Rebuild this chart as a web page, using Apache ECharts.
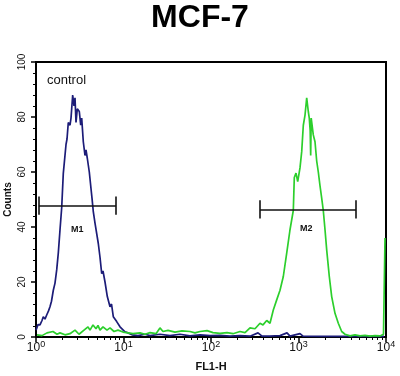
<!DOCTYPE html>
<html>
<head>
<meta charset="utf-8">
<script src="https://cdn.jsdelivr.net/npm/echarts@6/dist/echarts.min.js"></script>
<style>
html,body{margin:0;padding:0;background:#fff;}
#chart{width:400px;height:376px;}
</style>
</head>
<body>
<div id="chart"></div>
<script>
// ---- data (FL1-H value, counts) ----
var controlFL = [1.00,1.054,1.111,1.171,1.212,1.267,1.325,1.390,1.445,1.503,1.577,1.649,1.724,1.798,1.881,1.966,2.051,2.145,2.203,2.262,2.339,2.447,2.512,2.627,2.719,2.791,2.866,2.965,3.126,3.243,3.329,3.472,3.631,3.728,3.858,4.066,4.219,4.365,4.517,4.724,4.914,5.152,5.388,5.635,5.831,6.147,6.531,7.011,7.294,7.646,8.36,9.12,9.61,10.4,11.26,12.51,14.65,17.61,20.1,26.1,34.0,44.2,57.5,74.9,97.4,126.7,164.9,214.5,279.1,344.5,382.8,472.5,614.8,739,799.6,1040,1126,1761,2981,5047,9487];
var controlCounts = [2.5,4.5,4.4,6,7.4,6.5,8,9.5,11,13,17,19.6,24.4,30.5,39,47,59.5,59,70,72,78,77,79.6,88,84,87,78,83,82,77,79.6,71,66,68,65,60,55,50.5,45.6,41.4,42,34,29,23,24,20,14.7,11,12,7.4,5.6,3.7,4,1.9,1.5,0.8,0.5,1,0.5,1,0.5,1,0.4,0.8,0.5,0.6,0.3,0.5,0.3,1.5,0.3,0.3,0.5,1.5,0.3,1.2,0.3,0.2,0.2,0.2,0.2];

var sampleFL = [1.027,1.171,1.336,1.564,1.738,1.881,2.145,2.447,2.791,3.101,3.537,3.929,4.141,4.481,4.850,5.111,5.388,5.831,6.478,7.011,7.788,8.651,9.87,11.26,12.84,15.44,17.61,20.1,23.52,26.1,28.28,32.26,38.78,46.63,57.5,65.64,74.9,90.0,105.4,126.7,152.4,178.4,214.5,244.7,279.1,318.4,363.1,392.9,433.2,472.5,515.2,563.5,614.8,670.4,733.2,799.6,872.2,895.4,936.3,979.3,1040,1088,1135,1187,1241,1294,1328,1360,1378,1397,1476,1544,1614,1684,1761,1841,1920,2009,2101,2249,2395,2613,2850,3117,3400,3879,4424,5047,5754,6563,7486,8540,9363,9741];
var sampleCounts = [0.8,0.5,1.5,2,1,1.5,0.8,1.2,2.5,1,2.5,3.7,2.5,4.4,3,4.2,2.5,3.7,2.5,3.3,2,2.5,1.8,1.5,1.2,1.5,1,1.6,1.2,3.3,2,2.4,1.8,2.2,2,1.5,2,2.3,1.6,1.3,1.6,1.2,2,1.6,3.3,3,5,4.4,6,5,9.8,13.5,17,22,30.5,39,46,58,59.6,56.5,61.5,67.4,77,80.7,87,82,79.6,75,66,79.6,73.5,71,64,60,55,50.5,46,39,31.6,22,14.7,8.6,5,2,1,0.4,0.8,0.4,0.6,0.3,0.5,0.4,1,36];

// gates
var gateM1 = [1.08, 8.2], gateM1Level = 47.8;
var gateM2 = [363, 4540], gateM2Level = 46.4;
var capHalf = 3.3;

var xTickLabels = ['0','1','2','3','4'];
var yTicks = [0,20,40,60,80,100];

function zip(a,b){var r=[];for(var i=0;i<a.length;i++){r.push([a[i],b[i]]);}return r;}
function gateLines(g, lvl){
  return [
    [{coord:[g[0],lvl]},{coord:[g[1],lvl]}],
    [{coord:[g[0],lvl-capHalf]},{coord:[g[0],lvl+capHalf]}],
    [{coord:[g[1],lvl-capHalf]},{coord:[g[1],lvl+capHalf]}]
  ];
}
var minorTicks = [];
for (var d=0; d<4; d++){ for (var k=2;k<=9;k++){ minorTicks.push(d+Math.log10(k)); } }

var chart = echarts.init(document.getElementById('chart'), null, {renderer:'canvas'});
var font = 'Liberation Sans, Arial, sans-serif';
chart.setOption({
  animation:false,
  backgroundColor:'#fff',
  title:{text:'MCF-7',left:'center',top:-3,textStyle:{fontFamily:font,fontSize:32,fontWeight:'bold',color:'#000'}},
  grid:{left:36,right:14,top:62,bottom:39,containLabel:false,outerBoundsMode:'none',show:true,borderColor:'#000',borderWidth:2,backgroundColor:'transparent'},
  xAxis:[{
    type:'log',logBase:10,min:1,max:10000,
    name:'FL1-H',nameLocation:'middle',nameGap:24,nameMoveOverlap:false,
    nameTextStyle:{fontFamily:font,fontSize:11,fontWeight:'bold',color:'#111'},
    axisLine:{lineStyle:{color:'#000',width:2}},
    axisTick:{inside:false,length:5,lineStyle:{color:'#000',width:1.5}},
    splitLine:{show:false},
    axisLabel:{margin:3,color:'#111',
      formatter:function(v){var e=Math.round(Math.log10(v));return '{a|10}{b|'+xTickLabels[e]+'}';},
      rich:{a:{fontFamily:font,fontSize:12,color:'#111',lineHeight:14,verticalAlign:'bottom'},b:{fontFamily:font,fontSize:9,color:'#111',verticalAlign:'top',lineHeight:14}}}
  },{
    type:'value',min:0,max:4,position:'bottom',
    axisLine:{show:false},axisLabel:{show:false},splitLine:{show:false},
    axisTick:{show:true,length:3,customValues:minorTicks,lineStyle:{color:'#000',width:1}}
  }],
  yAxis:{
    type:'value',min:0,max:100,interval:20,
    name:'Counts',nameLocation:'middle',nameGap:23,nameRotate:90,nameMoveOverlap:false,
    nameTextStyle:{fontFamily:font,fontSize:10,fontWeight:'bold',color:'#111'},
    axisLine:{show:true,lineStyle:{color:'#000',width:2}},
    axisTick:{show:true,length:5,lineStyle:{color:'#000',width:1.5}},
    minorTick:{show:true,splitNumber:5,length:3,lineStyle:{color:'#000',width:1}},
    splitLine:{show:false},
    axisLabel:{rotate:90,margin:9,fontFamily:font,fontSize:10,color:'#111',
      formatter:function(v){return yTicks.indexOf(v)>=0?String(v):'';}}
  },
  series:[
    {type:'line',name:'control',data:zip(controlFL,controlCounts),showSymbol:false,symbol:'none',
      lineStyle:{color:'#1c1c78',width:1.7},z:3},
    {type:'line',name:'MCF-7',data:zip(sampleFL,sampleCounts),showSymbol:false,symbol:'none',
      lineStyle:{color:'#2ccf2c',width:1.7},z:4,
      markLine:{silent:true,symbol:'none',label:{show:false},lineStyle:{color:'#111',width:1.6,type:'solid'},
        data:gateLines(gateM1,gateM1Level).concat(gateLines(gateM2,gateM2Level))}}
  ],
  graphic:[
    {type:'text',left:47,top:74,style:{text:'control',fontFamily:font,fontSize:13,fill:'#111'}},
    {type:'text',left:71,top:225,style:{text:'M1',fontFamily:font,fontSize:9,fontWeight:'bold',fill:'#111'}},
    {type:'text',left:300,top:224,style:{text:'M2',fontFamily:font,fontSize:9,fontWeight:'bold',fill:'#111'}}
  ]
});
</script>
</body>
</html>
